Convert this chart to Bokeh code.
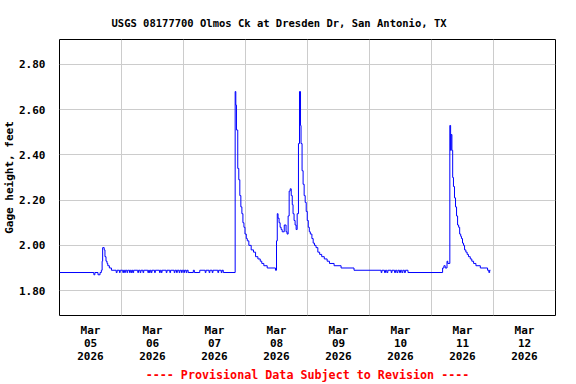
import pandas as pd
from bokeh.plotting import figure
from bokeh.models import (FixedTicker, DatetimeTickFormatter, PrintfTickFormatter,
                          Range1d)
from bokeh.embed import file_html
from bokeh.resources import INLINE

# ---------------- data (hours since 2026-03-05 00:00, gage height ft) -------------
start_date = "2026-03-05"

mar05_bump = [(0.0, 1.88), (13.3, 1.87), (13.7, 1.88), (14.9, 1.87), (15.7, 1.88),
              (16.2, 1.89), (16.5, 1.93), (16.7, 1.99), (17.3, 1.98), (17.6, 1.95),
              (18.0, 1.93), (18.4, 1.92), (18.7, 1.91), (19.3, 1.90), (20.1, 1.89)]

mar06_noise = [(21.95, 1.88), (22.3, 1.89), (23.2, 1.88), (23.5, 1.89), (24.5, 1.88),
               (24.8, 1.89), (25.2, 1.88), (25.5, 1.89), (26.1, 1.88), (26.4, 1.89),
               (27.1, 1.88), (27.4, 1.89), (27.8, 1.88), (28.1, 1.89), (28.4, 1.88),
               (28.7, 1.89), (30.3, 1.88), (30.6, 1.89), (31.2, 1.88), (31.5, 1.89),
               (32.3, 1.88), (32.6, 1.89), (34.2, 1.88), (34.5, 1.89), (34.8, 1.88),
               (35.1, 1.89), (35.5, 1.88), (35.8, 1.89), (36.8, 1.88), (37.1, 1.89),
               (38.7, 1.88), (39.0, 1.89), (39.4, 1.88), (39.7, 1.89), (41.3, 1.88),
               (41.6, 1.89), (42.7, 1.88), (43.0, 1.89), (44.4, 1.88), (44.7, 1.89),
               (45.3, 1.88), (45.6, 1.89), (46.3, 1.88), (46.6, 1.89), (47.2, 1.88),
               (47.5, 1.89), (48.1, 1.88), (48.4, 1.89), (49.0, 1.88), (49.3, 1.89),
               (49.8, 1.88), (51.8, 1.89), (52.2, 1.88), (54.3, 1.89), (56.4, 1.88),
               (56.7, 1.89), (57.9, 1.88), (58.2, 1.89), (59.1, 1.88), (59.4, 1.89),
               (61.3, 1.88), (61.6, 1.89), (62.6, 1.88), (62.9, 1.89), (63.4, 1.88)]

mar07_spike = [(68.0, 2.68), (68.25, 2.62), (68.5, 2.51), (69.0, 2.34), (69.4, 2.29),
               (69.8, 2.22), (70.2, 2.17), (70.6, 2.14), (71.0, 2.10), (71.4, 2.08),
               (71.8, 2.05), (72.3, 2.03), (72.7, 2.02), (73.3, 2.00), (74.2, 1.98),
               (75.1, 1.97), (75.9, 1.95), (76.8, 1.94), (77.7, 1.93), (78.3, 1.92),
               (79.1, 1.91), (80.4, 1.90), (83.6, 1.89)]

mar08_peaks = [(84.0, 2.02), (84.3, 2.14), (84.6, 2.12), (85.0, 2.10), (85.4, 2.08),
               (85.8, 2.07), (86.2, 2.06), (87.0, 2.09), (87.7, 2.06), (88.1, 2.05),
               (88.5, 2.13), (88.9, 2.24), (89.3, 2.25), (89.7, 2.22), (90.1, 2.18),
               (90.4, 2.14), (90.8, 2.11), (91.2, 2.09), (91.6, 2.07), (92.0, 2.14),
               (92.5, 2.45), (92.9, 2.68), (93.3, 2.53), (93.5, 2.45), (93.9, 2.33),
               (94.3, 2.27), (94.7, 2.22), (95.1, 2.19), (95.5, 2.15), (95.9, 2.11),
               (96.3, 2.08), (96.7, 2.06), (97.1, 2.05), (97.7, 2.03), (98.2, 2.01),
               (98.7, 2.00), (99.3, 1.99), (100.0, 1.97), (100.7, 1.96), (101.5, 1.95),
               (102.5, 1.94), (103.6, 1.93), (104.5, 1.92), (106.3, 1.91), (109.0, 1.90),
               (114.0, 1.89)]

mar10_noise = [(124.5, 1.88), (124.8, 1.89), (125.8, 1.88), (126.2, 1.89), (126.7, 1.88),
               (127.1, 1.89), (128.4, 1.88), (128.7, 1.89), (129.7, 1.88), (130.1, 1.89),
               (130.6, 1.88), (131.0, 1.89), (131.6, 1.88), (132.0, 1.89), (132.5, 1.88),
               (132.9, 1.89), (133.5, 1.88), (133.9, 1.89), (134.9, 1.88)]

mar11_spike = [(148.3, 1.90), (148.8, 1.91), (149.3, 1.90), (150.0, 1.93), (150.3, 1.92),
               (151.1, 2.53), (151.4, 2.42), (151.6, 2.49), (151.9, 2.42), (152.2, 2.30),
               (152.5, 2.26), (152.9, 2.21), (153.3, 2.17), (153.7, 2.13), (154.1, 2.09),
               (154.5, 2.08), (154.9, 2.05), (155.3, 2.04), (155.6, 2.03), (156.0, 2.01),
               (156.4, 2.00), (156.8, 1.98), (157.3, 1.97), (157.8, 1.96), (158.3, 1.95),
               (159.0, 1.94), (159.6, 1.93), (160.3, 1.92), (161.2, 1.91), (162.9, 1.90),
               (165.7, 1.89), (166.2, 1.88), (166.5, 1.89), (166.8, 1.89)]

y_ticks = [1.80, 2.00, 2.20, 2.40, 2.60, 2.80]
label_days = 8            # Mar 05 .. Mar 12
y_min, y_max = 1.69, 2.91

title_text = "USGS 08177700 Olmos Ck at Dresden Dr, San Antonio, TX"
y_label = "Gage height, feet"
footer_text = "---- Provisional Data Subject to Revision ----"

# ---------------- build --------------------------------------------------------------
readings = mar05_bump + mar06_noise + mar07_spike + mar08_peaks + mar10_noise + mar11_spike
t0 = pd.Timestamp(start_date).value / 1e6
HOUR = 3600000.0
xs = [t0 + h * HOUR for h, _ in readings]
ys = [v for _, v in readings]

label_ticks = [t0 + (d * 24 + 12) * HOUR for d in range(label_days)]
grid_ticks = [t0 + d * 24 * HOUR for d in range(1, label_days)]

FONT = "DejaVu Sans Mono"

p = figure(x_axis_type="datetime", frame_width=496, frame_height=276,
           x_range=Range1d(t0, t0 + label_days * 24 * HOUR),
           y_range=Range1d(y_min, y_max),
           output_backend="svg", toolbar_location=None,
           min_border_left=58, min_border_right=22, min_border_top=39, min_border_bottom=68,
           background_fill_color="white", border_fill_color="white")

p.title.text = title_text
p.title.align = "left"
p.title.offset = 52
p.title.standoff = 22
p.title.text_font = FONT
p.title.text_font_style = "bold"
p.title.text_font_size = "10.5px"
p.title.text_color = "black"

p.step(xs, ys, mode="after", line_color="#0000ff", line_width=1)

fmt = "%b\n%d\n%Y"
xa = p.xaxis[0]
xa.ticker = FixedTicker(ticks=label_ticks)
xa.formatter = DatetimeTickFormatter(microseconds=fmt, milliseconds=fmt, seconds=fmt,
                                     minsec=fmt, minutes=fmt, hourmin=fmt, hours=fmt,
                                     days=fmt, months=fmt, years=fmt)
xa.major_label_standoff = 2
xa.major_label_text_line_height = 1.0
xa.axis_label = footer_text
xa.axis_label_standoff = 2
xa.axis_label_text_color = "red"
xa.axis_label_text_font_style = "bold"
xa.axis_label_text_font_size = "11.7px"
xa.axis_label_text_font = FONT

ya = p.yaxis[0]
ya.ticker = FixedTicker(ticks=y_ticks)
ya.formatter = PrintfTickFormatter(format="%.2f")
ya.major_label_standoff = 8
ya.axis_label = y_label
ya.axis_label_standoff = 0
ya.axis_label_text_color = "black"
ya.axis_label_text_font = FONT
ya.axis_label_text_font_style = "bold"
ya.axis_label_text_font_size = "11px"

for ax in (xa, ya):
    ax.axis_line_color = None
    ax.major_tick_line_color = None
    ax.minor_tick_line_color = None
    ax.major_label_text_font = FONT
    ax.major_label_text_font_style = "bold"
    ax.major_label_text_font_size = "11px"
    ax.major_label_text_color = "black"

p.xgrid[0].ticker = FixedTicker(ticks=grid_ticks)
for g in (p.xgrid[0], p.ygrid[0]):
    g.grid_line_color = "#cccccc"
    g.grid_line_width = 1

p.outline_line_color = "black"
p.outline_line_alpha = 1.0
p.outline_line_width = 1

open("out.html", "w").write(file_html(p, INLINE))
